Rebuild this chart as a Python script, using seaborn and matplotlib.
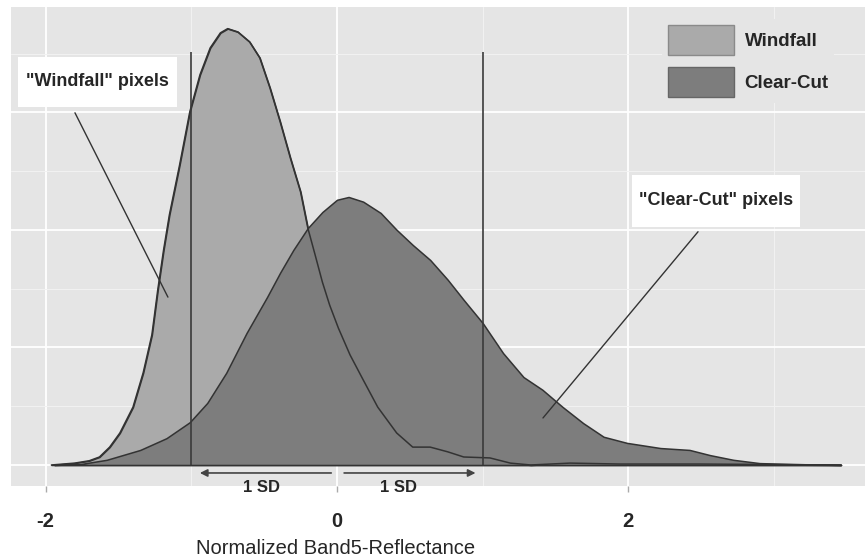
import matplotlib
matplotlib.use("Agg")
import matplotlib.pyplot as plt
from matplotlib.patches import Patch, Rectangle
from matplotlib.ticker import FixedLocator
import seaborn as sns


# density curves
windfall_x = [-1.96, -1.80, -1.70, -1.63, -1.56, -1.49, -1.40, -1.33, -1.27, -1.23,
              -1.19, -1.15, -1.08, -1.01, -0.94, -0.87, -0.80, -0.75, -0.68, -0.60,
              -0.53, -0.46, -0.39, -0.32, -0.25, -0.20, -0.15, -0.10, -0.05, 0.01,
              0.09, 0.18, 0.28, 0.41, 0.52, 0.64, 0.76, 0.87, 1.05, 1.19,
              1.33, 1.60, 1.94, 2.49, 3.46]
windfall_y = [0.000, 0.004, 0.009, 0.017, 0.038, 0.068, 0.123, 0.196, 0.277, 0.372,
              0.457, 0.532, 0.638, 0.751, 0.830, 0.887, 0.919, 0.928, 0.921, 0.900,
              0.866, 0.802, 0.730, 0.653, 0.581, 0.504, 0.447, 0.389, 0.340, 0.291,
              0.234, 0.181, 0.123, 0.068, 0.038, 0.038, 0.028, 0.017, 0.015, 0.004,
              0.000, 0.004, 0.002, 0.002, 0.000]

clearcut_x = [-1.94, -1.76, -1.58, -1.35, -1.17, -1.01, -0.89, -0.76, -0.62, -0.48,
              -0.39, -0.30, -0.20, -0.10, 0.00, 0.08, 0.18, 0.30, 0.41, 0.52,
              0.64, 0.76, 0.87, 1.00, 1.07, 1.14, 1.28, 1.41, 1.55, 1.69,
              1.83, 1.99, 2.22, 2.42, 2.56, 2.72, 2.90, 3.13, 3.46]
clearcut_y = [0.000, 0.002, 0.011, 0.032, 0.057, 0.091, 0.132, 0.196, 0.281, 0.357,
              0.409, 0.457, 0.504, 0.538, 0.564, 0.570, 0.560, 0.536, 0.500, 0.468,
              0.436, 0.394, 0.351, 0.302, 0.270, 0.238, 0.187, 0.160, 0.123, 0.089,
              0.060, 0.047, 0.036, 0.032, 0.021, 0.011, 0.004, 0.002, 0.000]

groups = ["Windfall", "Clear-Cut"]
sd_lines = [-1.0, 1.0]
x_ticks = [-2, 0, 2]
x_labels = ["-2", "0", "2"]

sns.set_theme(style="darkgrid", rc={"axes.facecolor": "#e5e5e5", "grid.color": "white"})
plt.rcParams["font.family"] = ["Liberation Sans", "DejaVu Sans"]

fig, ax = plt.subplots(figsize=(8.65, 5.57), dpi=100)
fig.subplots_adjust(left=11/865, right=1.0, top=1-7/557, bottom=1-486/557)

fill_wf = "#aaaaaa"
fill_cc = "#7d7d7d"
edge = "#333333"

ax.fill_between(windfall_x, windfall_y, 0, facecolor=fill_wf, edgecolor=edge, lw=1.1,
                joinstyle="round", zorder=2)
ax.fill_between(clearcut_x, clearcut_y, 0, facecolor=fill_cc, edgecolor=edge, lw=1.1,
                joinstyle="round", zorder=3)
sns.lineplot(x=windfall_x, y=windfall_y, ax=ax, color=edge, lw=1.1,
             estimator=None, sort=False, zorder=4, solid_joinstyle="round")

# SD lines
ax.vlines(sd_lines, 0, 0.879, color="#3a3a3a", lw=1.2, zorder=5)

# arrows under the axis
ax.annotate("", xy=(-0.96, -0.017), xytext=(-0.02, -0.017),
            arrowprops=dict(arrowstyle="-|>", color="#444444", lw=1.2, mutation_scale=11),
            annotation_clip=False)
ax.annotate("", xy=(0.97, -0.017), xytext=(0.03, -0.017),
            arrowprops=dict(arrowstyle="-|>", color="#444444", lw=1.2, mutation_scale=11),
            annotation_clip=False)
ax.text(-0.515, -0.047, "1 SD", ha="center", va="center", fontsize=12, fontweight="bold")
ax.text(0.42, -0.047, "1 SD", ha="center", va="center", fontsize=12, fontweight="bold")

# labelled boxes with pointer lines
ax.add_patch(Rectangle((-2.189, 0.762), 1.091, 0.106, facecolor="white", edgecolor="none", zorder=6))
ax.text(-1.643, 0.815, '"Windfall" pixels', ha="center", va="center",
        fontsize=13, fontweight="bold", zorder=7)
ax.plot([-1.798, -1.160], [0.749, 0.357], color="#333333", lw=1.0, zorder=6)

ax.add_patch(Rectangle((2.025, 0.506), 1.153, 0.111, facecolor="white", edgecolor="none", zorder=6))
ax.text(2.601, 0.562, '"Clear-Cut" pixels', ha="center", va="center",
        fontsize=13, fontweight="bold", zorder=7)
ax.plot([2.478, 1.414], [0.496, 0.100], color="#333333", lw=1.0, zorder=6)

# legend
handles = [Patch(facecolor=fill_wf, edgecolor="#8a8a8a", label=groups[0]),
           Patch(facecolor=fill_cc, edgecolor="#666666", label=groups[1])]
leg = ax.legend(handles=handles, loc="upper right", bbox_to_anchor=(0.964, 0.975),
                frameon=True, fancybox=False, framealpha=1, edgecolor="white",
                borderaxespad=0, borderpad=0.3, handlelength=3.55, handleheight=2.15,
                handletextpad=0.55, labelspacing=0.6,
                prop={"size": 13.5, "weight": "bold"})
leg.get_frame().set_linewidth(0)

# axes
ax.set_xlim(-2.237, 3.624)
ax.set_ylim(-0.0447, 0.974)
ax.xaxis.set_major_locator(FixedLocator(x_ticks))
ax.xaxis.set_minor_locator(FixedLocator([-1, 1, 3]))
ax.yaxis.set_major_locator(FixedLocator([0, 0.25, 0.5, 0.75]))
ax.yaxis.set_minor_locator(FixedLocator([0.125, 0.375, 0.625, 0.875]))
ax.set_xticklabels(x_labels, fontsize=14.5, fontweight="bold")
ax.set_yticklabels([])
ax.tick_params(axis="x", which="major", length=4, width=1, color="#aaaaaa", pad=15, bottom=True)
ax.tick_params(which="minor", length=0)
ax.tick_params(axis="y", length=0)
ax.grid(which="major", color="white", lw=1.3)
ax.grid(which="minor", color="#f2f2f2", lw=0.7)
ax.set_axisbelow(True)
for s in ax.spines.values():
    s.set_visible(False)

ax.set_ylabel("")
ax.set_xlabel("Normalized Band5-Reflectance", fontsize=14.5)
ax.xaxis.set_label_coords((336 - 11) / 854, (486 - 539) / 479)

fig.savefig("out.png", dpi=100)
